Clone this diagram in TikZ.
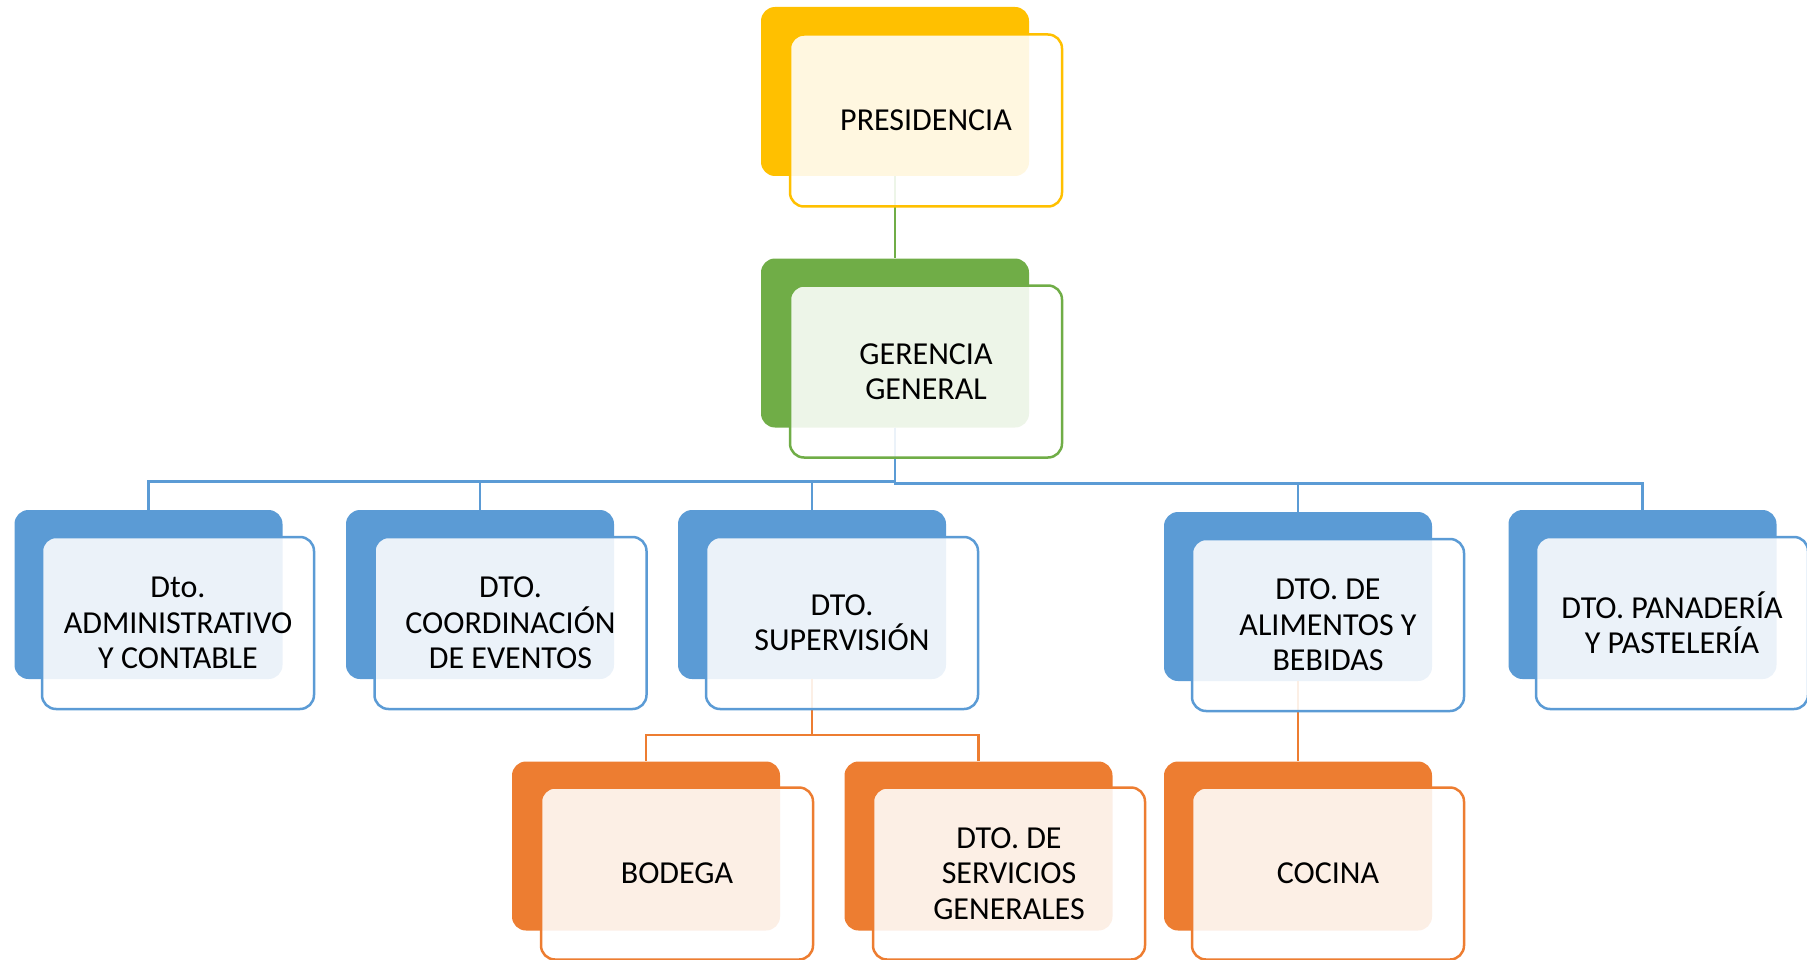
\documentclass[tikz,border=0pt]{standalone}
\usepackage{fontspec}
\setmainfont{Carlito}
\definecolor{cyel}{HTML}{FFC000}
\definecolor{cgrn}{HTML}{70AD47}
\definecolor{cblu}{HTML}{5B9BD5}
\definecolor{corg}{HTML}{ED7D31}
\begin{document}
\begin{tikzpicture}[x=1pt,y=-1pt,
  backbox/.style={draw=none, fill=#1, rounded corners=14pt, minimum width=268pt, minimum height=169pt, inner sep=0pt},
  frontbox/.style={draw=#1, line width=2.5pt, fill=white, fill opacity=0.88, text opacity=1, draw opacity=1, rounded corners=14pt, minimum width=272pt, minimum height=172pt, inner sep=0pt, align=center, font=\fontsize{32}{35.3}\selectfont},
  link/.style={draw=#1, line width=2.5pt},
]
\useasboundingbox (0,0) rectangle (1807,960);
\clip (0,0) rectangle (1807,960);

% back boxes
\node[backbox=cyel] (presB) at (895,91.5) {};
\node[backbox=cgrn] (gerB) at (895,343) {};
\node[backbox=cblu] (admB) at (148.5,594.5) {};
\node[backbox=cblu] (cooB) at (480,594.5) {};
\node[backbox=cblu] (supB) at (812,594.5) {};
\node[backbox=cblu] (aliB) at (1298,596.5) {};
\node[backbox=cblu] (panB) at (1642.5,594.5) {};
\node[backbox=corg] (bodB) at (646,846) {};
\node[backbox=corg] (serB) at (978.5,846) {};
\node[backbox=corg] (cocB) at (1298,846) {};

% connectors
\draw[link=cgrn] (presB.south) -- (gerB.north);
\draw[link=cblu] (gerB.south) -- ++(0,54) -| (admB.north);
\draw[link=cblu] (gerB.south) -- ++(0,54) -| (cooB.north);
\draw[link=cblu] (gerB.south) -- ++(0,54) -| (supB.north);
\draw[link=cblu] (gerB.south) -- ++(0,56) -| (aliB.north);
\draw[link=cblu] (gerB.south) -- ++(0,56) -| (panB.north);
\draw[link=corg] (supB.south) -- ++(0,56) -| (bodB.north);
\draw[link=corg] (supB.south) -- ++(0,56) -| (serB.north);
\draw[link=corg] (aliB.south) -- (cocB.north);

% front boxes
\node[frontbox=cyel] (pres) at (926,120.5) {PRESIDENCIA};
\node[frontbox=cgrn] (ger) at (926,371.5) {GERENCIA\\GENERAL};
\node[frontbox=cblu] (adm) at (178,623) {Dto.\\ADMINISTRATIVO\\Y CONTABLE};
\node[frontbox=cblu] (coo) at (510.5,623) {DTO.\\COORDINACIÓN\\DE EVENTOS};
\node[frontbox=cblu] (sup) at (842,623) {DTO.\\SUPERVISIÓN};
\node[frontbox=cblu] (ali) at (1328,625) {DTO. DE\\ALIMENTOS Y\\BEBIDAS};
\node[frontbox=cblu] (pan) at (1672,623) {DTO. PANADERÍA\\Y PASTELERÍA};
\node[frontbox=corg] (bod) at (677,873.5) {BODEGA};
\node[frontbox=corg] (ser) at (1009,873.5) {DTO. DE\\SERVICIOS\\GENERALES};
\node[frontbox=corg] (coc) at (1328,873.5) {COCINA};
\end{tikzpicture}
\end{document}
